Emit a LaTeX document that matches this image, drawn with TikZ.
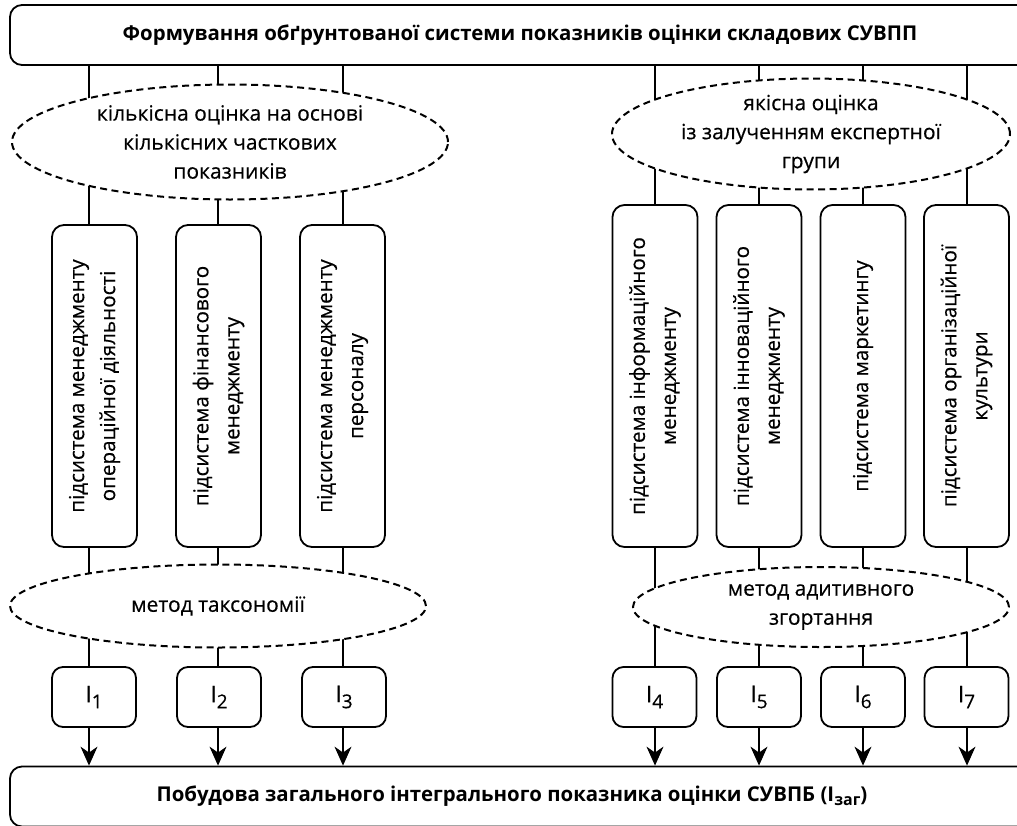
\documentclass[tikz,border=0pt]{standalone}
\usepackage{fontspec}
\setmainfont{Open Sans}[UprightFeatures={FakeBold=0.4}]
\usetikzlibrary{shapes.geometric,arrows.meta,backgrounds}
\newcommand\lowsub[1]{\raisebox{-6pt}{\fontsize{19}{19}\selectfont #1}}
\begin{document}
\begin{tikzpicture}[x=1pt,y=-1pt,
  bar/.style={draw, line width=1.8pt, rounded corners=12pt, minimum width=1020pt, minimum height=60pt, inner sep=0pt, font=\bfseries\fontsize{20.4}{24}\selectfont, fill=white},
  oval/.style={ellipse, draw, line width=2pt, dash pattern=on 7pt off 4.5pt, fill=white, inner sep=0pt, align=center, font=\fontsize{21}{29}\selectfont},
  vbox/.style={draw, line width=1.8pt, rounded corners=12pt, fill=white, rotate=90, inner sep=0pt, minimum height=85pt, align=center, font=\fontsize{20.6}{31}\selectfont},
  ibox/.style={draw, line width=1.8pt, rounded corners=11pt, fill=white, minimum width=84pt, minimum height=60pt, inner sep=0pt, font=\fontsize{23}{26}\selectfont},
  conn/.style={line width=1.1pt},
  arr/.style={conn, -{Stealth[length=19pt,width=17pt,inset=6pt]}}
]
\useasboundingbox (0,0) rectangle (1017,825);

\node[bar] (top) at (520,35) {Формування обґрунтованої системи показників оцінки складових СУВПП};
\node[bar] (bot) at (520,796.5) {\hspace*{-16pt}Побудова загального інтегрального показника оцінки СУВПБ (I\raisebox{-4pt}{\fontsize{16}{16}\selectfont заг})};

\node[oval, minimum width=436pt, minimum height=115pt] (e1) at (230,142) {кількісна оцінка на основі\\кількісних часткових\\показників};
\node[oval, minimum width=398pt, minimum height=96pt] (e2) at (811,134) {якісна оцінка\\із залученням експертної\\групи};
\node[oval, minimum width=416pt, minimum height=83pt] (e3) at (218,606) {метод таксономії};
\node[oval, minimum width=376pt, minimum height=80pt] (e4) at (821,607) {метод адитивного\\згортання};

\node[vbox, minimum width=322pt] (b1) at (94.5,386) {підсистема менеджменту\\операційної діяльності};
\node[vbox, minimum width=322pt] (b2) at (218.5,386) {підсистема фінансового\\менеджменту};
\node[vbox, minimum width=322pt] (b3) at (342.5,386) {підсистема менеджменту\\персоналу};
\node[vbox, minimum width=342pt] (b4) at (655,376) {підсистема інформаційного\\менеджменту};
\node[vbox, minimum width=342pt] (b5) at (759,376) {підсистема інноваційного\\менеджменту};
\node[vbox, minimum width=342pt] (b6) at (863,376) {підсистема маркетингу};
\node[vbox, minimum width=342pt] (b7) at (966.5,376) {підсистема організаційної\\культури};

\node[ibox] (i1) at (94,697) {I\lowsub{1}};
\node[ibox] (i2) at (219,697) {I\lowsub{2}};
\node[ibox] (i3) at (344,697) {I\lowsub{3}};
\node[ibox] (i4) at (654.5,697) {I\lowsub{4}};
\node[ibox] (i5) at (759,697) {I\lowsub{5}};
\node[ibox] (i6) at (863,697) {I\lowsub{6}};
\node[ibox] (i7) at (966.5,697) {I\lowsub{7}};

\coordinate (c1) at (89,0);
\coordinate (c2) at (218,0);
\coordinate (c3) at (343,0);
\coordinate (c4) at (655,0);
\coordinate (c5) at (759,0);
\coordinate (c6) at (863,0);
\coordinate (c7) at (967,0);

\begin{scope}[on background layer]
\foreach \k in {1,...,7}{
  \draw[conn] (c\k |- top.south) -- (c\k |- b\k.east);
  \draw[conn] (c\k |- b\k.west) -- (c\k |- i\k.north);
}
\end{scope}
\foreach \k in {1,...,7}{
  \draw[arr] (c\k |- i\k.south) -- (c\k |- bot.north);
}
\end{tikzpicture}
\end{document}
